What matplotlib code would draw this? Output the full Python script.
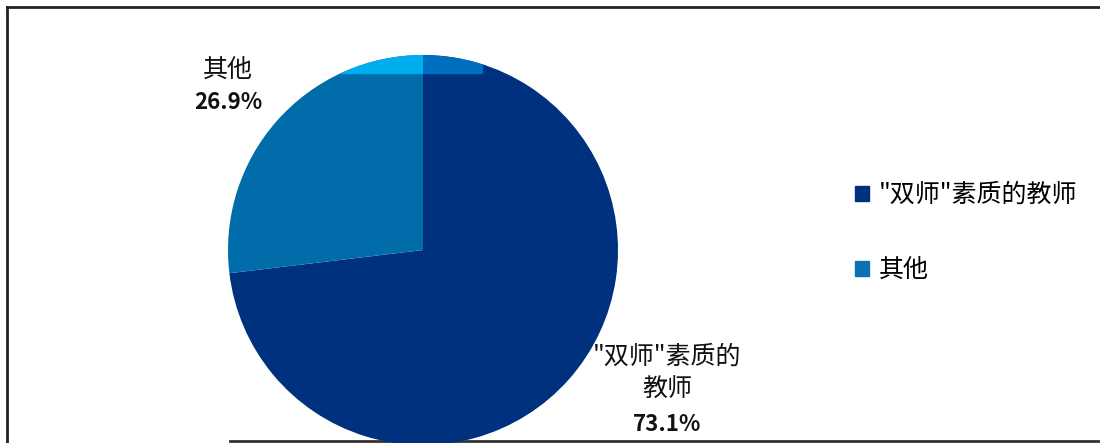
"""
Pie chart: share of "double-qualified" teachers
"""

import matplotlib.pyplot as plt
from matplotlib.lines import Line2D
from matplotlib.patches import Rectangle

plt.rcParams["font.family"] = ["Noto Sans CJK SC", "DejaVu Sans"]

# data
labels = ['"双师"素质的教师', "其他"]
label_lines = [['"双师"素质的', "教师"], ["其他"]]
shares = [73.1, 26.9]
colors = ["#00317F", "#006DAA"]
legend_colors = ["#00317F", "#0A72B0"]

fig = plt.figure(figsize=(11, 4.43), dpi=100)
ax = fig.add_axes([0, 0, 1, 1])

wedges, _ = ax.pie(
    shares,
    colors=colors,
    startangle=90,
    counterclock=False,
    radius=1,
    center=(0, 0),
)

# pie centred at (423, 250) px with radius 195 px
ax.set_xlim(-423 / 195, (1100 - 423) / 195)
ax.set_ylim(-(443 - 250) / 195, 250 / 195)
ax.set_aspect("auto")
ax.axis("off")

# lighter band at the top of the pie (as in the original rendering)
band_dark = Rectangle((0, 0.908), 0.30, 0.2, color="#006EBE", zorder=3)
band_dark.set_clip_path(wedges[0])
ax.add_patch(band_dark)
band_other = Rectangle((-1.1, 0.908), 1.1, 0.2, color="#00AEEF", zorder=3)
band_other.set_clip_path(wedges[1])
ax.add_patch(band_other)

# data labels
ax.text(1.251, -0.549, label_lines[0][0], ha="center", va="center",
        fontsize=18, color="#111111")
ax.text(1.251, -0.718, label_lines[0][1], ha="center", va="center",
        fontsize=18, color="#111111")
ax.text(1.251, -0.897, f"{shares[0]:.1f}%", ha="center", va="center",
        fontsize=16, fontweight="bold", color="#111111")
ax.text(-1.0, 0.925, label_lines[1][0], ha="center", va="center",
        fontsize=18, color="#111111")
ax.text(-1.0, 0.755, f"{shares[1]:.1f}%", ha="center", va="center",
        fontsize=16, fontweight="bold", color="#111111")

# legend
handles = [
    Rectangle((0, 0), 1, 1, color=c) for c in legend_colors
]
fig.legend(
    handles,
    labels,
    loc="center left",
    bbox_to_anchor=(0.757, 0.475),
    frameon=False,
    fontsize=18,
    handlelength=0.55,
    handleheight=0.55,
    handletextpad=0.4,
    labelspacing=1.95,
)

# outer frame lines
fig.add_artist(Line2D([7 / 1100, 1], [1 - 7 / 443, 1 - 7 / 443],
                      color="#222222", lw=2))
fig.add_artist(Line2D([7 / 1100, 7 / 1100], [0, 1 - 7 / 443],
                      color="#222222", lw=2))
fig.add_artist(Line2D([230 / 1100, 1], [2.5 / 443, 2.5 / 443],
                      color="#333333", lw=2, zorder=0))

plt.savefig("out.png", dpi=100)
